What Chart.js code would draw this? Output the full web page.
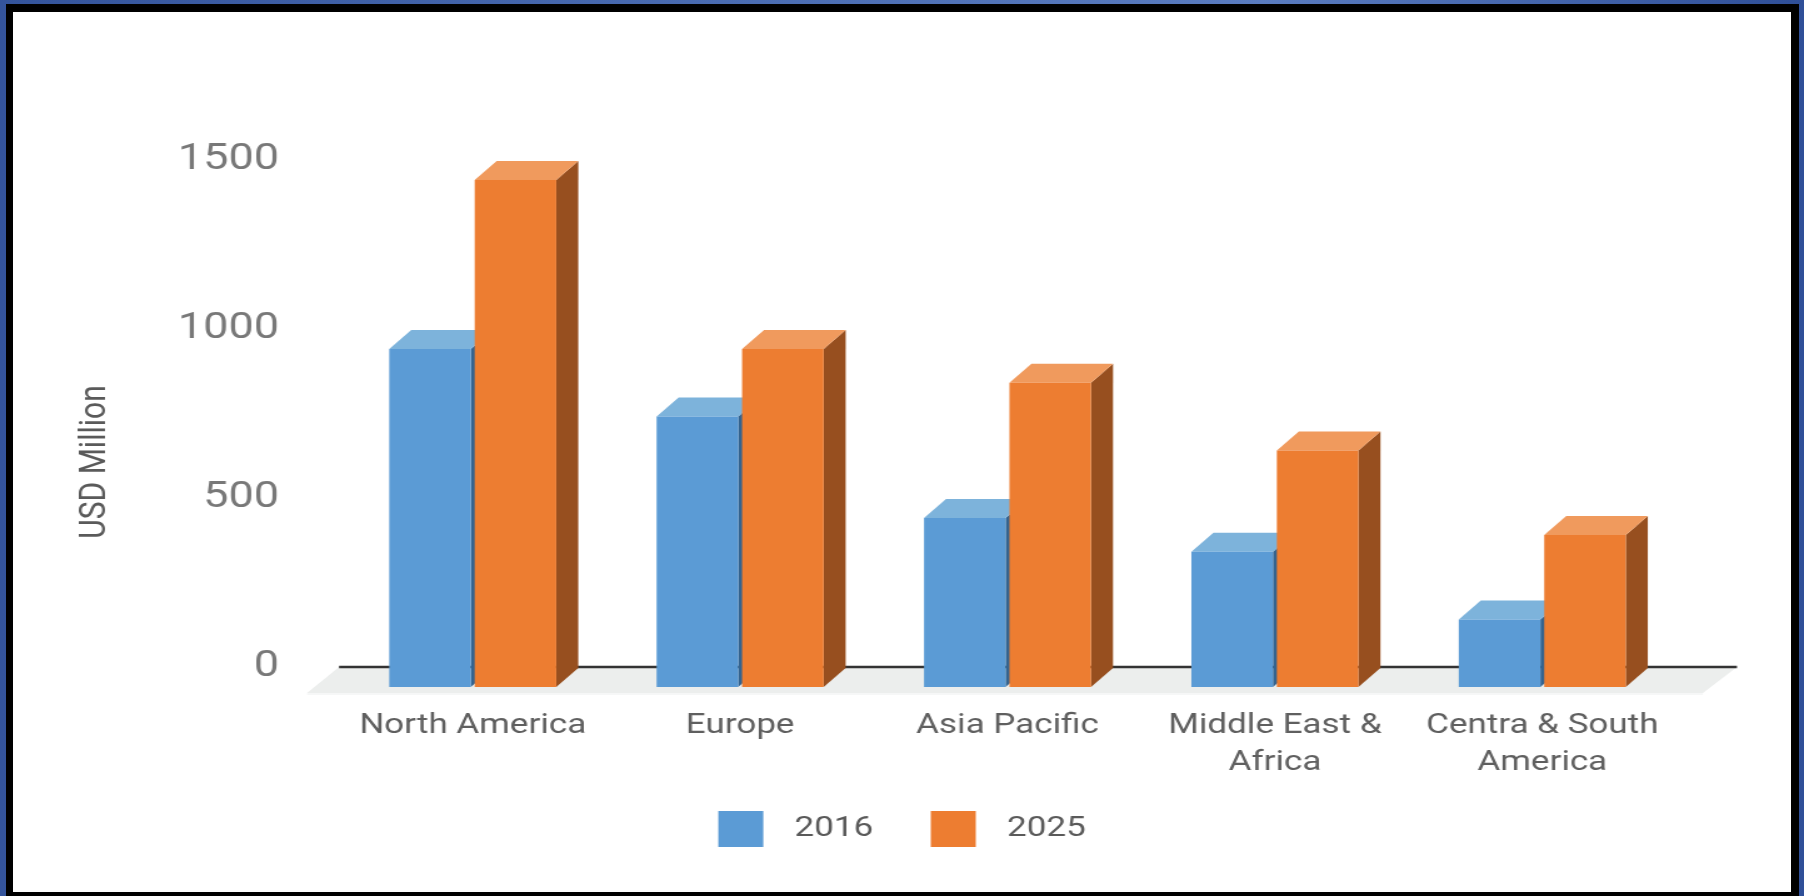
<!DOCTYPE html>
<html>
<head>
<meta charset="utf-8">
<script src="https://cdn.jsdelivr.net/npm/chart.js@4.4.1/dist/chart.umd.min.js"></script>
<style>
  html, body { margin: 0; padding: 0; width: 1804px; height: 896px; overflow: hidden; }
  body { background: linear-gradient(90deg, #34549c 0%, #4a6cb2 40%, #5a7cc0 70%, #2f4f98 100%); position: relative; }
  #frame {
    position: absolute; left: 6px; top: 4px;
    width: 1778px; height: 880px;
    border-style: solid; border-color: #000;
    border-width: 8px 8px 8px 7px;
    background: #fff;
  }
  #chart { position: absolute; left: 0; top: 0; }
</style>
</head>
<body>
<div id="frame"></div>
<canvas id="chart" width="1443" height="896" style="width:1804px;height:896px"></canvas>
<script>
const categories = [
  ['North America'],
  ['Europe'],
  ['Asia Pacific'],
  ['Middle East &', 'Africa'],
  ['Centra & South', 'America'],
]
const seriesNames = ['2016', '2025']
const values2016 = [1000, 800, 500, 400, 200]
const values2025 = [1500, 1000, 900, 700, 450]
const yTicks = [0, 500, 1000, 1500]

const FONT = 'Roboto, "Liberation Sans", Arial, sans-serif'
// the reference is stretched sideways, so the canvas is drawn narrower and widened by css
const SX = 1804 / 1443
const DEPTH_X = 22 / SX
const DEPTH_Y = 19
const SWATCH_PAD = 10

const palette = [
  { front: '#5b9bd5', top: '#7db3db', side: '#33638f' },
  { front: '#ed7d31', top: '#f09a5d', side: '#974f1f' },
]

// legend swatch with some blank room on both sides of the square
const legendSwatch = (color) => {
  const c = document.createElement('canvas')
  c.width = SWATCH_PAD + 47
  c.height = 38
  const g = c.getContext('2d')
  g.fillStyle = color
  g.fillRect(SWATCH_PAD, 1, 36, 36)
  g.globalAlpha = 0.35
  g.fillStyle = '#ffffff'
  g.fillRect(SWATCH_PAD + 1, 0, 34, 1)
  g.fillRect(SWATCH_PAD + 1, 37, 34, 1)
  return c
}

const floorPlugin = {
  id: 'floor3d',
  beforeDatasetsDraw(chart) {
    const { ctx, chartArea } = chart
    const base = chart.scales.y.getPixelForValue(0)
    const { left, right } = chartArea
    ctx.save()
    // floor
    ctx.fillStyle = '#eceeed'
    ctx.beginPath()
    ctx.moveTo(left, base - 20)
    ctx.lineTo(right + 61 / SX, base - 20)
    ctx.lineTo(right + 27 / SX, base + 6)
    ctx.lineTo(left - 32 / SX, base + 6)
    ctx.closePath()
    ctx.fill()
    ctx.fillStyle = '#f6f7f7'
    ctx.fillRect(left - 32 / SX, base + 6, right - left + 59 / SX, 2)
    // wall base line
    ctx.strokeStyle = '#333333'
    ctx.lineWidth = 2.5
    ctx.beginPath()
    ctx.moveTo(left, base - 20)
    ctx.lineTo(right + 61 / SX, base - 20)
    ctx.stroke()

    // side and top faces of every bar, fronts are drawn by chart.js
    chart.data.datasets.forEach((ds, di) => {
      const meta = chart.getDatasetMeta(di)
      const col = palette[di]
      meta.data.forEach((bar) => {
        const { x, y, base: b, width } = bar.getProps(['x', 'y', 'base', 'width'], true)
        const l = x - width / 2
        const r = x + width / 2
        ctx.fillStyle = col.side
        ctx.beginPath()
        ctx.moveTo(r, y)
        ctx.lineTo(r + DEPTH_X, y - DEPTH_Y)
        ctx.lineTo(r + DEPTH_X, b - DEPTH_Y)
        ctx.lineTo(r, b)
        ctx.closePath()
        ctx.fill()
        ctx.fillStyle = col.top
        ctx.beginPath()
        ctx.moveTo(l, y)
        ctx.lineTo(l + DEPTH_X, y - DEPTH_Y)
        ctx.lineTo(r + DEPTH_X, y - DEPTH_Y)
        ctx.lineTo(r, y)
        ctx.closePath()
        ctx.fill()
      })
    })
    ctx.restore()
  },
  afterDraw(chart) {
    const { ctx } = chart
    ctx.save()
    ctx.translate(96 / SX, 462)
    ctx.rotate(-Math.PI / 2)
    ctx.font = `30px ${FONT}`
    ctx.fillStyle = '#5a5a5a'
    ctx.textAlign = 'center'
    ctx.textBaseline = 'middle'
    ctx.fillText('USD Million', 0, 0)
    ctx.restore()
  },
}

const canvas = document.getElementById('chart')

new Chart(canvas.getContext('2d'), {
  type: 'bar',
  data: {
    labels: categories,
    datasets: [
      {
        label: seriesNames[0],
        data: values2016,
        backgroundColor: palette[0].front,
        borderWidth: 0,
        barPercentage: 0.955,
        categoryPercentage: 0.639,
      },
      {
        label: seriesNames[1],
        data: values2025,
        backgroundColor: palette[1].front,
        borderWidth: 0,
        barPercentage: 0.955,
        categoryPercentage: 0.639,
      },
    ],
  },
  options: {
    responsive: false,
    animation: false,
    devicePixelRatio: 1,
    layout: {
      // left padding is smaller by SWATCH_PAD so the legend stays centred
      padding: { left: 102.4 - SWATCH_PAD, right: 102.4, top: 180, bottom: 43 },
    },
    plugins: {
      tooltip: { enabled: false },
      legend: {
        position: 'bottom',
        labels: {
          usePointStyle: true,
          pointStyleWidth: SWATCH_PAD + 47,
          padding: 36,
          color: '#5a5a5a',
          font: { family: FONT, size: 28 },
          generateLabels(chart) {
            const items = Chart.defaults.plugins.legend.labels.generateLabels(chart)
            return items.map((item, i) => ({ ...item, pointStyle: legendSwatch(palette[i].front) }))
          },
        },
      },
    },
    scales: {
      x: {
        grid: { display: false, drawTicks: false },
        border: { display: false },
        ticks: {
          padding: 21,
          autoSkip: false,
          maxRotation: 0,
          color: '#5f5f5f',
          font: { family: FONT, size: 28, lineHeight: 1.3 },
        },
        afterFit(scale) {
          scale.height = 92
        },
      },
      y: {
        min: 0,
        max: yTicks[yTicks.length - 1],
        grid: { display: false, drawTicks: false },
        border: { display: false },
        afterBuildTicks(scale) {
          scale.ticks = yTicks.map((v) => ({ value: v }))
        },
        ticks: {
          padding: 48,
          labelOffset: -20,
          color: '#787878',
          font: { family: FONT, size: 36 },
          callback: (v) => String(v),
        },
        afterFit(scale) {
          scale.width = 168.8 + SWATCH_PAD
        },
      },
    },
  },
  plugins: [floorPlugin],
})
</script>
</body>
</html>
